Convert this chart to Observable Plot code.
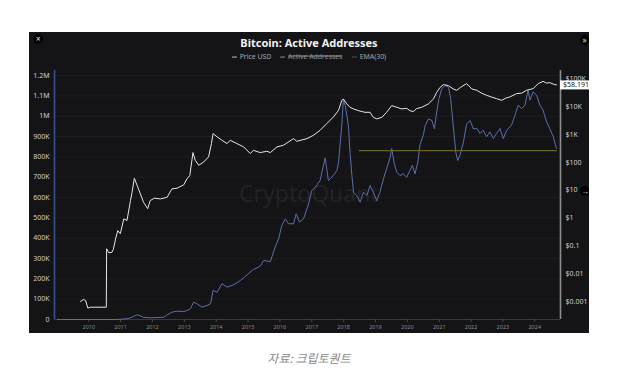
<!DOCTYPE html>
<html><head><meta charset="utf-8">
<script src="https://cdn.jsdelivr.net/npm/d3@7"></script>
<script src="https://cdn.jsdelivr.net/npm/@observablehq/plot@0.6"></script>
<style>
html,body{margin:0;padding:0;background:#fff;}
body{width:634px;height:372px;position:relative;overflow:hidden;font-family:"Noto Sans",sans-serif;}
#panel{position:absolute;left:29px;top:32px;width:560px;height:301px;background:#141417;overflow:hidden;}
#chart{position:absolute;left:0;top:0;}
.t{position:absolute;line-height:1;white-space:nowrap;}
#wm{left:210px;top:161px;transform:translateY(-50%);font-size:23px;color:rgba(255,255,255,0.07);}
#title{left:280px;top:10px;transform:translate(-50%,-50%);font-size:11px;font-weight:700;color:#f2f2f2;}
.leg{position:absolute;top:25.3px;transform:translateY(-50%);display:flex;align-items:center;font-size:6.9px;line-height:1;white-space:nowrap;color:#a8a8a8;}
.leg .d{display:inline-block;width:5px;height:1px;margin-right:3px;}
.btn{position:absolute;width:10px;height:10px;border-radius:50%;background:#000;color:#e0e0e0;font-size:8px;line-height:10px;text-align:center;transform:translate(-50%,-50%);}
#caption{left:309px;top:357.5px;transform:translate(-50%,-50%);font-family:"Noto Sans CJK KR",sans-serif;font-size:12px;font-style:italic;color:#8a8a8a;}
</style></head><body>
<div id="panel">
  <div id="wm" class="t">CryptoQuant</div>
  <div id="chart"></div>
  <div id="title" class="t">Bitcoin: Active Addresses</div>
  <div class="leg" style="left:202.7px"><span class="d" style="background:#bdbdbd"></span><span>Price USD</span></div>
  <div class="leg" style="left:251px;color:#8c8c8c"><span class="d" style="background:#8c8c8c"></span><span style="text-decoration:line-through">Active Addresses</span></div>
  <div class="leg" style="left:322.7px"><span class="d" style="background:#555"></span><span>EMA(30)</span></div>
  <div class="btn" style="left:9.3px;top:7.3px">×</div>
  <div class="btn" style="left:555.5px;top:7.7px">»</div>
  <div class="btn" style="left:556px;top:158.7px">→</div>
</div>
<div id="caption" class="t">자료: 크립토퀀트</div>
<script>
// ---- data (decimal years) ----
const priceYears = [2009.74,2009.84,2009.90,2009.97,2010.05,2010.55,2010.56,2010.63,2010.73,2010.77,2010.84,2010.91,2010.99,2011.10,2011.20,2011.31,2011.36,2011.43,2011.52,2011.62,2011.72,2011.85,2011.93,2012.06,2012.25,2012.46,2012.61,2012.77,2012.98,2013.08,2013.17,2013.27,2013.34,2013.45,2013.61,2013.76,2013.85,2013.90,2014.03,2014.18,2014.34,2014.44,2014.65,2014.86,2015.07,2015.17,2015.38,2015.59,2015.70,2015.91,2016.11,2016.43,2016.53,2016.85,2017.05,2017.26,2017.47,2017.68,2017.84,2017.94,2017.99,2018.10,2018.20,2018.31,2018.46,2018.67,2018.83,2018.93,2019.04,2019.20,2019.35,2019.51,2019.67,2019.82,2019.98,2020.08,2020.19,2020.29,2020.45,2020.66,2020.82,2020.92,2021.03,2021.13,2021.29,2021.44,2021.55,2021.68,2021.86,2022.02,2022.18,2022.33,2022.49,2022.65,2022.80,2022.96,2023.09,2023.22,2023.43,2023.59,2023.74,2023.95,2024.11,2024.26,2024.37,2024.47,2024.58,2024.68];
const priceUSD = [0.00106,0.00125,0.00115,0.00061,0.00066,0.00066,0.081,0.058,0.061,0.076,0.18,0.36,0.28,0.95,0.83,4.3,8.5,26.8,14.7,7.4,3.7,2.2,4.3,5.2,4.9,5.6,11.2,11.8,15.6,25.5,33.5,222,118,78,103,156,465,1060,807,611,465,611,465,355,205,268,222,247,222,355,405,702,562,702,921,1390,2410,4180,7200,16000,18400,12200,9200,8080,7020,6110,6110,4050,3550,4050,6110,10600,9200,8080,8490,7020,6460,8280,9200,12200,18400,31600,47700,59600,54800,41800,37300,48500,64700,41800,37300,29600,24700,21300,18800,16400,19600,21700,28400,29600,37300,42900,64700,78100,67400,70200,62100,58191];
const addrYears = [2009.01,2010.89,2011.20,2011.36,2011.46,2011.54,2011.72,2011.93,2012.35,2012.46,2012.61,2012.77,2012.98,2013.08,2013.19,2013.29,2013.40,2013.55,2013.71,2013.82,2013.90,2014.03,2014.18,2014.34,2014.55,2014.76,2014.97,2015.17,2015.38,2015.49,2015.70,2015.85,2015.96,2016.06,2016.17,2016.27,2016.43,2016.51,2016.61,2016.74,2016.90,2017.00,2017.11,2017.26,2017.42,2017.52,2017.63,2017.79,2017.84,2017.94,2017.99,2018.05,2018.15,2018.20,2018.26,2018.31,2018.41,2018.52,2018.62,2018.73,2018.83,2018.93,2019.04,2019.14,2019.25,2019.35,2019.46,2019.51,2019.59,2019.67,2019.77,2019.87,2019.98,2020.08,2020.16,2020.24,2020.33,2020.40,2020.50,2020.56,2020.66,2020.77,2020.85,2020.92,2020.99,2021.08,2021.18,2021.29,2021.36,2021.44,2021.52,2021.58,2021.65,2021.76,2021.86,2021.97,2022.07,2022.18,2022.28,2022.38,2022.49,2022.59,2022.70,2022.80,2022.91,2023.01,2023.12,2023.27,2023.38,2023.48,2023.59,2023.69,2023.79,2023.85,2023.95,2024.06,2024.16,2024.26,2024.37,2024.47,2024.58,2024.68];
const addrThousands = [0,0,3.4,11,20,23,11,8,11,23,36,41,39,44,53,85,77,61,69,77,143,134,176,159,171,192,220,246,262,290,285,356,397,462,495,471,471,520,479,495,569,635,651,684,795,684,700,733,774,954,1082,1053,954,823,708,626,610,577,626,610,659,626,585,626,692,741,798,841,767,725,708,717,700,733,758,717,774,864,905,954,987,979,938,1020,1086,1135,1151,1143,1086,954,823,782,807,872,963,979,938,940,915,931,899,923,890,915,940,890,931,956,1005,1054,1038,1054,1128,1079,1120,1103,1054,1030,973,940,899,841];
const emaYears = [2018.49, 2024.68];
const emaThousands = [831, 831];
const yearTicks = [2010,2011,2012,2013,2014,2015,2016,2017,2018,2019,2020,2021,2022,2023,2024];
const addrTicks = [0,100000,200000,300000,400000,500000,600000,700000,800000,900000,1000000,1100000,1200000];
const priceTicks = [0.001,0.01,0.1,1,10,100,1000,10000,100000];
const lastPriceLabel = "$58.191K";

// ---- scales set-up ----
const yearToDate = t => { const y = Math.floor(t); const a = Date.UTC(y,0,1), b = Date.UTC(y+1,0,1); return new Date(a + (t - y) * (b - a)); };
const xStart = yearToDate(2008.923), xEnd = yearToDate(2024.807), xLabelEnd = yearToDate(2025.72);
const addrMax = 1225000;            // left axis top
const logMin = -3.62, logMax = 5.28; // right (log) axis range
const toLeft = p => (Math.log10(p) - logMin) / (logMax - logMin) * addrMax;

const priceData = priceYears.map((t,i) => ({date: yearToDate(t), p: priceUSD[i]}));
const addrData = addrYears.map((t,i) => ({date: yearToDate(t), v: addrThousands[i]*1000}));
const emaData = emaYears.map((t,i) => ({date: yearToDate(t), v: emaThousands[i]*1000}));
const lastPrice = priceUSD[priceUSD.length-1];

const addrFmt = v => v === 0 ? "0" : v < 1e6 ? (v/1000) + "K" : (v/1e6) + "M";
const priceFmt = p => p >= 1000 ? "$" + (p/1000) + "K" : "$" + p;

const chart = Plot.plot({
  width: 560, height: 301,
  marginLeft: 25, marginRight: 29, marginTop: 38, marginBottom: 14,
  style: {background: "transparent", color: "#cfcfcf", fontFamily: "Noto Sans", fontSize: "7px", overflow: "visible"},
  x: {type: "utc", domain: [xStart, xEnd]},
  y: {domain: [0, addrMax]},
  marks: [
    Plot.gridY(addrTicks, {stroke: "#ffffff", strokeOpacity: 0.045}),
    Plot.ruleY([0], {stroke: "#38383d"}),
    Plot.axisX(yearTicks.map(yearToDate), {tickFormat: d => String(d.getUTCFullYear()), tickSize: 3, tickPadding: 3, fontSize: 5.5, color: "#8a8a8a", stroke: "#4a4a4f", label: null}),
    Plot.axisY(addrTicks, {anchor: "left", tickSize: 0, tickPadding: 5, tickFormat: addrFmt, color: "#d0d0d0", label: null}),
    Plot.text(priceTicks, {frameAnchor: "right", y: toLeft, text: priceFmt, dx: 5, textAnchor: "start", fill: "#d0d0d0", fontSize: 7}),
    Plot.line(addrData, {x: "date", y: "v", stroke: "#5c6fa9", strokeWidth: 1}),
    Plot.line(emaData, {x: "date", y: "v", stroke: "#65652c", strokeWidth: 1.2}),
    Plot.line(priceData, {x: "date", y: d => toLeft(d.p), stroke: "#e6e6e6", strokeWidth: 1}),
    Plot.ruleX([xStart], {stroke: "#3b4d8c", strokeWidth: 1.6}),
    Plot.ruleX([xEnd], {stroke: "#8d8d8d", strokeWidth: 1.6}),
    Plot.ruleY([lastPrice], {y: toLeft, x1: () => xEnd, x2: () => xLabelEnd, stroke: "#ffffff", strokeWidth: 9}),
    Plot.text([lastPrice], {y: toLeft, frameAnchor: "right", text: () => lastPriceLabel, dx: 2.5, textAnchor: "start", fill: "#1a1a1a", fontSize: 7})
  ]
});
document.getElementById("chart").appendChild(chart);
</script>
</body></html>
